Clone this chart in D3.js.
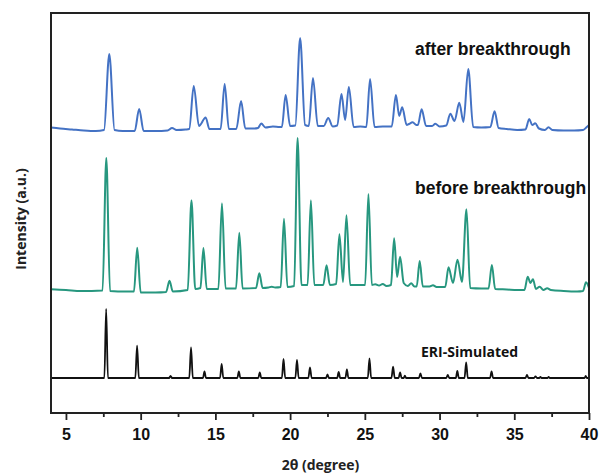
<!DOCTYPE html>
<html>
<head>
<meta charset="utf-8">
<script src="https://cdn.jsdelivr.net/npm/d3@7/dist/d3.min.js"></script>
<style>
  body { margin: 0; background: #fff; }
</style>
</head>
<body>
<div class="chart"></div>
<script>
// 2theta ticks
var majorTicks = [5, 10, 15, 20, 25, 30, 35, 40];
var minorTicks = [7.5, 12.5, 17.5, 22.5, 27.5, 32.5, 37.5];

var seriesNames = ["after breakthrough", "before breakthrough", "ERI-Simulated"];
// vertical stacking offset of each pattern (a.u.)
var offsets = [283, 123, 35];

// [2theta, intensity above own baseline]
var afterPts = [
  [4.0,2.5],[4.6,1.5],[5.4,0.5],[6.2,-0.5],[7.0,-1],[7.55,0],[7.9,76],[8.25,0],[8.8,-1],[9.6,-1],
  [9.9,21],[10.2,-1],[11.0,-1],[11.8,-0.5],[12.1,2],[12.4,0],[13.0,0.5],[13.25,1],[13.55,44],[13.9,4],
  [14.35,12.5],[14.6,1],[15.35,1],[15.62,46],[15.9,1],[16.4,1],[16.72,29],[17.0,1.5],[17.6,1.5],[17.85,2],
  [18.07,6.5],[18.35,2.5],[18.85,3.5],[19.3,3],[19.45,3],[19.7,35],[20.0,4],[20.35,4.5],[20.67,92],[21.0,5],
  [21.25,4],[21.53,52],[21.85,4],[22.25,4],[22.55,12],[22.85,3.5],[23.15,4.5],[23.44,36],[23.68,10],[23.93,43],
  [24.25,3],[24.7,3.5],[25.1,3],[25.35,51],[25.65,3],[26.2,3.5],[26.8,3.5],[27.08,35],[27.3,14],[27.5,22.7],
  [27.8,5],[27.95,6],[28.2,7.7],[28.45,5],[28.55,5],[28.8,20.7],[29.1,4],[29.5,4],[29.72,6.3],[30.0,3.5],
  [30.45,4.5],[30.72,16.3],[31.0,9],[31.32,27.3],[31.6,8],[31.92,61],[32.25,3],[32.8,2.5],[33.4,3],[33.68,18.7],
  [33.95,2],[34.5,1],[35.2,0],[35.75,0.5],[36.0,11],[36.2,5],[36.4,6.7],[36.65,1.5],[37.05,0],[37.29,2.7],
  [37.55,0],[38.3,-0.5],[39.0,-0.5],[39.6,0],[39.85,3],[40.0,5]
];

var beforePts = [
  [4.0,0.7],[5.0,0],[6.0,-1],[7.45,-0.5],[7.7,132],[7.95,-1],[9.0,-1.5],[9.55,-1.5],[9.77,42.3],[10.0,-2.5],
  [11.0,-2.5],[11.7,-2],[11.93,9.3],[12.15,-1.5],[13.15,0],[13.4,89.7],[13.65,1],[14.0,2],[14.2,42],[14.42,1],
  [15.2,1],[15.44,86.7],[15.68,1.5],[16.38,1.5],[16.6,57.3],[16.82,1.5],[17.72,2],[17.94,16.7],[18.16,2],[18.55,2.5],
  [18.77,3.3],[19.0,2.5],[19.37,3],[19.59,71.3],[19.82,3],[20.27,4],[20.5,152],[20.76,5],[21.17,5],[21.39,89.7],
  [21.62,5],[22.22,5],[22.44,24.7],[22.66,5],[23.08,6],[23.3,55.7],[23.54,8],[23.77,74.7],[24.02,5],[24.6,5],
  [25.02,5],[25.24,96],[25.47,5],[25.7,5.7],[25.95,4.5],[26.2,6],[26.45,4],[26.75,5],[26.96,51.7],[27.16,13],
  [27.36,33.3],[27.6,7],[27.88,4],[28.1,6.7],[28.32,3.5],[28.47,3.5],[28.67,29],[28.88,3.5],[29.33,3.5],[29.56,4.7],
  [29.8,3],[30.38,3],[30.6,22.7],[30.9,7],[31.2,30.3],[31.5,8],[31.8,80.7],[32.05,2],[32.8,1.5],[33.28,1.5],
  [33.5,25],[33.72,1],[34.5,0.5],[35.2,0],[35.68,0],[35.9,13.3],[36.08,7],[36.25,10.7],[36.45,1],[36.7,3.3],
  [36.95,0],[37.2,1.7],[37.45,0],[38.3,-1],[39.2,-1.5],[39.6,-1],[39.8,7.7],[40.0,2]
];

var simPts = [
  [4,0],[7.57,0],[7.69,69],[7.81,0],[9.64,0],[9.76,32.3],[9.88,0],[11.9,0],[12.0,2],[12.1,0],
  [13.25,0],[13.37,30.7],[13.49,0],[14.17,0],[14.27,6.7],[14.37,0],[15.31,0],[15.42,14],[15.53,0],[16.47,0],
  [16.57,6.7],[16.67,0],[17.87,0],[17.97,5.7],[18.07,0],[19.45,0],[19.56,19],[19.67,0],[20.35,0],[20.46,18],
  [20.57,0],[21.22,0],[21.33,10.7],[21.44,0],[22.4,0],[22.5,3.7],[22.6,0],[23.15,0],[23.25,6],[23.35,0],
  [23.7,0],[23.8,8.7],[23.9,0],[25.2,0],[25.31,19.7],[25.42,0],[26.78,0],[26.89,11.3],[27.0,0],[27.26,0],
  [27.36,5.7],[27.46,0],[27.6,0],[27.68,2.3],[27.76,0],[28.62,0],[28.72,4.7],[28.82,0],[30.45,0],[30.55,3],
  [30.65,0],[31.09,0],[31.19,7],[31.29,0],[31.67,0],[31.78,15.7],[31.89,0],[33.38,0],[33.48,6.7],[33.58,0],
  [35.75,0],[35.85,3],[35.95,0],[36.32,0],[36.42,1.7],[36.52,0],[36.67,0],[36.75,1.2],[36.83,0],[37.22,0],
  [37.3,1],[37.38,0],[39.7,0],[39.78,2],[39.86,0],[40,0]
];

var svgWidth = 601;
var svgHeight = 474;
var margin = { top: 13, right: 12, bottom: 61, left: 51 };
var width = svgWidth - margin.left - margin.right;
var height = svgHeight - margin.top - margin.bottom;

var svg = d3.select(".chart")
  .append("svg")
  .attr("width", svgWidth)
  .attr("height", svgHeight);

var chartGroup = svg.append("g")
  .attr("transform", `translate(${margin.left}, ${margin.top})`);

var x = d3.scaleLinear().domain([4, 40]).range([0, width]);
var y = d3.scaleLinear().domain([0, 400]).range([height, 0]);

var colors = ["#4472c4", "#27977f", "#111111"];
var allSeries = [afterPts, beforePts, simPts];

allSeries.forEach(function(pts, i) {
  var line = d3.line()
    .x(function(d) { return x(d[0]); })
    .y(function(d) { return y(d[1] + offsets[i]); })
    .curve(d3.curveMonotoneX);
  chartGroup.append("path")
    .datum(pts)
    .attr("fill", "none")
    .attr("stroke", colors[i])
    .attr("stroke-width", i == 2 ? 1.8 : 2)
    .attr("stroke-linejoin", "round")
    .attr("d", line);
});

// frame
chartGroup.append("rect")
  .attr("width", width)
  .attr("height", height)
  .attr("fill", "none")
  .attr("stroke", "#222")
  .attr("stroke-width", 2);

// x axis, major + minor ticks
var xAxis = chartGroup.append("g")
  .attr("transform", "translate(0," + height + ")")
  .call(d3.axisBottom(x).tickValues(majorTicks).tickSize(7).tickFormat(d3.format("d")));
xAxis.select(".domain").remove();
xAxis.selectAll("line").attr("stroke", "#222").attr("stroke-width", 1.8);
xAxis.selectAll("text")
  .attr("dy", null)
  .attr("y", 27)
  .style("font-family", "'Liberation Sans', Arial, sans-serif")
  .style("font-weight", "bold")
  .style("font-size", "16px")
  .attr("fill", "#111");

var xMinor = chartGroup.append("g")
  .attr("transform", "translate(0," + height + ")")
  .call(d3.axisBottom(x).tickValues(minorTicks).tickSize(4).tickFormat(""));
xMinor.select(".domain").remove();
xMinor.selectAll("line").attr("stroke", "#222").attr("stroke-width", 1.8);

svg.append("text")
  .attr("text-anchor", "middle")
  .attr("x", 320.5)
  .attr("y", 470)
  .style("font-family", "'Open Sans', sans-serif")
  .style("font-weight", "bold")
  .style("font-size", "14px")
  .attr("fill", "#222")
  .text("2θ (degree)");

svg.append("text")
  .attr("text-anchor", "middle")
  .attr("transform", "translate(26,219) rotate(-90)")
  .style("font-family", "'Open Sans', sans-serif")
  .style("font-weight", "bold")
  .style("font-size", "14px")
  .attr("fill", "#222")
  .text("Intensity (a.u.)");

// series labels
var labelPos = [[415, 55, 17.5], [415, 194, 17.5], [421, 356.5, 14]];
seriesNames.forEach(function(name, i) {
  svg.append("text")
    .attr("x", labelPos[i][0])
    .attr("y", labelPos[i][1])
    .style("font-family", i == 2 ? "'Open Sans', sans-serif" : "'Liberation Sans', Arial, sans-serif")
    .style("font-weight", "bold")
    .style("font-size", labelPos[i][2] + "px")
    .attr("fill", "#111")
    .text(name);
});
</script>
</body>
</html>
